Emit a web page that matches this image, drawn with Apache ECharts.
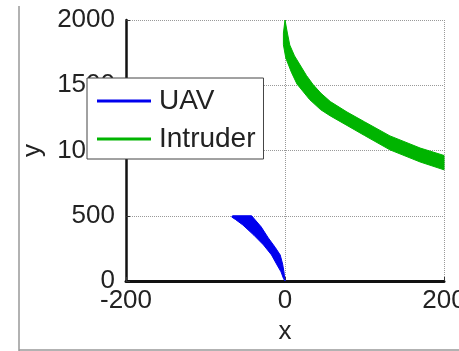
<!DOCTYPE html>
<html>
<head>
<meta charset="utf-8">
<script src="https://cdn.jsdelivr.net/npm/echarts@6/dist/echarts.min.js"></script>
<style>
html,body{margin:0;padding:0;background:#fff;}
#c{width:459px;height:351px;}
</style>
</head>
<body>
<div id="c"></div>
<script>
// Data
const seriesNames = ['UAV', 'Intruder'];
const xTicks = [-200, 0, 200];
const yTicks = [0, 500, 1000, 1500, 2000];
// UAV band edges [x, y]
const uavOuter = [[0,0],[-2,20],[-5,70],[-10,123],[-17,200],[-27,276],[-39,350],[-53,429],[-62,470],[-67,490],[-66,500]];
const uavInner = [[-42,500],[-30,415],[-21,330],[-12,255],[-6,199],[-3,130],[-1.3,69],[0,0]];
// Intruder band edges [x, y]
const intrUpper = [[0,2000],[3,1900],[6,1808],[12,1725],[19,1655],[27,1575],[35,1508],[45,1440],[57,1375],[78,1295],[100,1220],[132,1112],[170,1019],[200,962]];
const intrLower = [[200,852],[170,912],[132,1005],[100,1115],[78,1192],[57,1265],[45,1312],[31,1390],[15,1510],[8,1600],[1,1709],[-2,1810],[-2,1900],[0,2000]];

const uavBand = uavOuter.concat(uavInner);
const intrBand = intrUpper.concat(intrLower);
const colors = ['#0000ee', '#00b400'];
const font = '"Liberation Sans", Arial, sans-serif';

function bandRenderer(band, color) {
  return function (params, api) {
    const pts = band.map(p => api.coord(p));
    return {
      type: 'polygon',
      shape: { points: pts },
      style: { fill: color, stroke: color, lineWidth: 1, lineJoin: 'round' }
    };
  };
}

const chart = echarts.init(document.getElementById('c'), null, { renderer: 'canvas' });
chart.setOption({
  animation: false,
  backgroundColor: '#fff',
  textStyle: { fontFamily: font },
  grid: { left: 126, right: 15, top: 20, bottom: 70, containLabel: false, outerBoundsMode: 'none' },
  xAxis: {
    type: 'value',
    min: xTicks[0], max: xTicks[xTicks.length - 1], interval: 200,
    name: 'x', nameLocation: 'middle', nameGap: 38,
    nameTextStyle: { fontSize: 26, color: '#222', fontFamily: font },
    axisLine: { onZero: false, lineStyle: { color: '#111', width: 3 } },
    axisTick: { inside: true, length: 4, lineStyle: { color: '#333', width: 1 } },
    axisLabel: { fontSize: 26, color: '#222', margin: 7, fontFamily: font, hideOverlap: false, formatter: v => String(v) },
    splitLine: { show: true, lineStyle: { type: 'dotted', color: '#999', width: 1 } }
  },
  yAxis: {
    type: 'value',
    min: yTicks[0], max: yTicks[yTicks.length - 1], interval: 500,
    name: 'y', nameLocation: 'middle', nameGap: 78, nameRotate: 90,
    nameTextStyle: { fontSize: 26, color: '#222', fontFamily: font },
    axisLine: { show: true, onZero: false, lineStyle: { color: '#111', width: 2.5 } },
    axisTick: { show: true, inside: true, length: 4, lineStyle: { color: '#333', width: 1 } },
    axisLabel: { fontSize: 26, color: '#222', margin: 11, fontFamily: font, hideOverlap: false, formatter: v => String(v) },
    splitLine: { show: true, lineStyle: { type: 'dotted', color: '#999', width: 1 } }
  },
  legend: {
    orient: 'vertical',
    left: 87, top: 78,
    backgroundColor: '#fff',
    borderColor: '#444', borderWidth: 1, borderRadius: 0,
    padding: [8, 8, 5, 10],
    itemGap: 8,
    itemWidth: 54, itemHeight: 3,
    data: seriesNames.map(n => ({ name: n, icon: 'rect' })),
    textStyle: { fontSize: 28, lineHeight: 30, color: '#222', fontFamily: font, padding: [0, 0, 0, 3] }
  },
  graphic: [
    { type: 'line', shape: { x1: 19, y1: 6, x2: 19, y2: 351 }, style: { stroke: '#999', lineWidth: 1.5 }, silent: true },
    { type: 'line', shape: { x1: 19, y1: 350, x2: 459, y2: 350 }, style: { stroke: '#999', lineWidth: 1.5 }, silent: true }
  ],
  series: [
    {
      name: seriesNames[0], type: 'custom', data: [[0, 0]],
      encode: { x: 0, y: 1 },
      itemStyle: { color: colors[0] },
      renderItem: bandRenderer(uavBand, colors[0]), z: 3
    },
    {
      name: seriesNames[1], type: 'custom', data: [[0, 2000]],
      encode: { x: 0, y: 1 },
      itemStyle: { color: colors[1] },
      renderItem: bandRenderer(intrBand, colors[1]), z: 3
    }
  ]
});
</script>
</body>
</html>
